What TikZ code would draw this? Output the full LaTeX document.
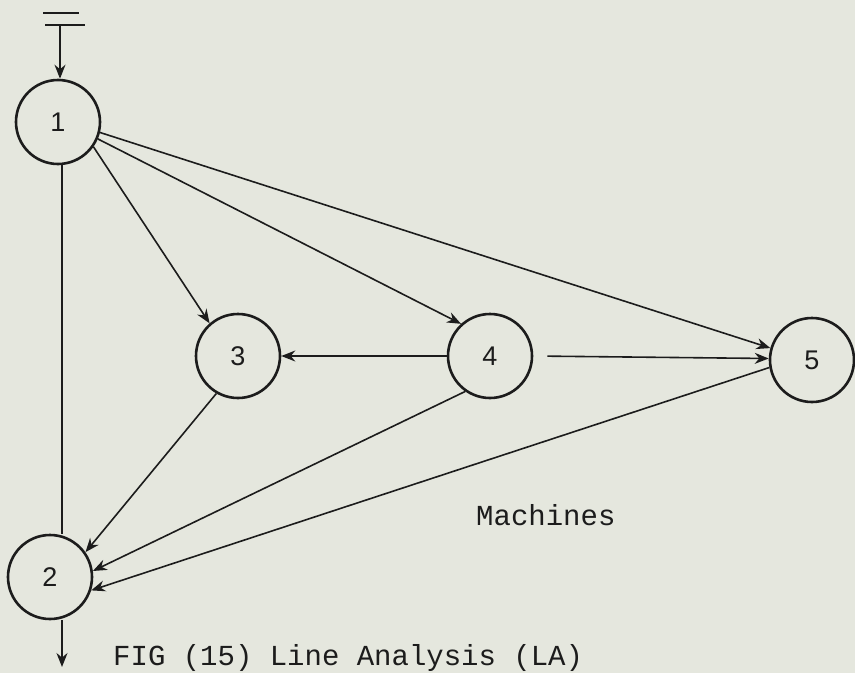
\documentclass[tikz,border=0pt]{standalone}
\usepackage{fontspec}
\setmainfont{Liberation Sans}
\newfontfamily\typew{Liberation Mono}
\newfontfamily\digitfont{Liberation Sans}
\usetikzlibrary{arrows.meta}
\definecolor{paper}{RGB}{229,231,222}
\definecolor{ink}{RGB}{28,28,28}
\begin{document}
\begin{tikzpicture}[x=1pt,y=-1pt,
  machine/.style={circle,draw=ink,line width=2.6pt,minimum size=84pt,inner sep=0pt,
    font=\digitfont\fontsize{27}{27}\selectfont,text=ink},
  flow/.style={draw=ink,line width=1.6pt,-{Stealth[length=14pt,width=11pt]}},
  plain/.style={draw=ink,line width=1.6pt},
  txt/.style={font=\typew\fontsize{29}{29}\selectfont,text=ink,anchor=base west,inner sep=0pt}]
\fill[paper] (0,0) rectangle (855,673);
\useasboundingbox (0,0) rectangle (855,673);

\node[machine] (n1) at (58,122) {1};
\node[machine] (n2) at (50,577) {2};
\node[machine] (n3) at (238,356) {3};
\node[machine] (n4) at (490,356) {4};
\node[machine] (n5) at (812,360) {5};

% input bars
\coordinate (b1l) at (43,13); \coordinate (b1r) at (79,13);
\coordinate (b2l) at (45,25); \coordinate (b2r) at (85,25);
\draw[plain,line width=2.6pt] (b1l) -- (b1r);
\draw[plain,line width=2.6pt] (b2l) -- (b2r);
\coordinate (in) at (60,25);
\draw[flow] (in) -- (n1.north -| in);

% 1 to 2
\draw[plain] ([xshift=4pt]n1.south) -- ([xshift=12pt]n2.north);
% output
\coordinate (out) at (62,667);
\draw[flow] (n2.south -| out) -- (out);

% from 1
\draw[flow] (n1.-35) -- (n3.131);
\draw[flow] (n1.-23) -- (n4.132);
\draw[flow] (n1.-14) -- (n5.164);

% between 3,4,5
\draw[flow] (n4.west) -- (n3.east);
\draw[flow,shorten <=14pt] (n4.east) -- (n5.178);

% into 2
\draw[flow] (n3.-120) -- (n2.35);
\draw[flow] (n4.-125) -- (n2.8);
\draw[flow] (n5.190) -- (n2.-18);

\node[txt] (mach) at (476,525) {Machines};
\node[txt] (cap) at (113,665) {FIG (15) Line Analysis (LA)};
\end{tikzpicture}
\end{document}
